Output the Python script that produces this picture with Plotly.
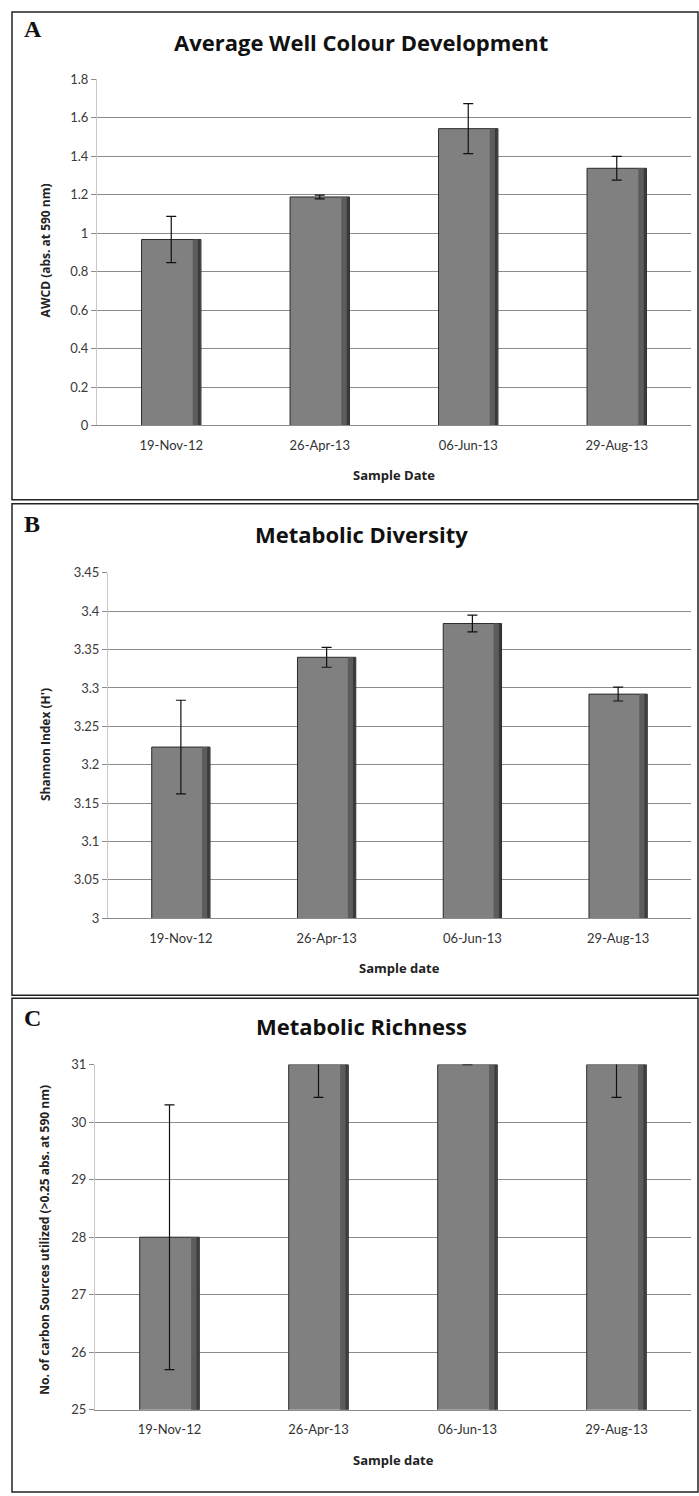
import plotly.graph_objects as go

W, H = 699, 1496

dates = ["19-Nov-12", "26-Apr-13", "06-Jun-13", "29-Aug-13"]

awcd = [0.967, 1.188, 1.543, 1.337]
awcd_err = [0.12, 0.01, 0.13, 0.062]
awcd_ticks = [0, 0.2, 0.4, 0.6, 0.8, 1, 1.2, 1.4, 1.6, 1.8]
awcd_ticktext = ["0", "0.2", "0.4", "0.6", "0.8", "1", "1.2", "1.4", "1.6", "1.8"]

shannon = [3.223, 3.340, 3.384, 3.292]
shannon_err = [0.061, 0.013, 0.011, 0.009]
shannon_ticks = [3, 3.05, 3.1, 3.15, 3.2, 3.25, 3.3, 3.35, 3.4, 3.45]
shannon_ticktext = ["3", "3.05", "3.1", "3.15", "3.2", "3.25", "3.3", "3.35", "3.4", "3.45"]

richness = [28, 31, 31, 31]
richness_err = [2.3, 0.57, 0, 0.57]
richness_ticks = [25, 26, 27, 28, 29, 30, 31]
richness_ticktext = ["25", "26", "27", "28", "29", "30", "31"]


def px_x(x):
    return x / W


def px_y(y):
    return 1 - y / H


panels = [
    dict(vals=awcd, err=awcd_err, ticks=awcd_ticks, ticktext=awcd_ticktext,
         rng=[0, 1.8], xd=[97, 691], yd=[72, 422], ax="", letter="A",
         title="Average Well Colour Development",
         ytitle="AWCD (abs. at 590 nm)", xtitle="Sample Date",
         box=[12, 4, 698, 497], letter_y=21, title_y=34, xtitle_y=472, ytitle_y=245),
    dict(vals=shannon, err=shannon_err, ticks=shannon_ticks, ticktext=shannon_ticktext,
         rng=[3, 3.45], xd=[108, 691], yd=[571, 920], ax="2", letter="B",
         title="Metabolic Diversity",
         ytitle="Shannon Index (H')", xtitle="Sample date",
         box=[12, 501, 698, 998], letter_y=522, title_y=532, xtitle_y=970, ytitle_y=745),
    dict(vals=richness, err=richness_err, ticks=richness_ticks, ticktext=richness_ticktext,
         rng=[25, 31], xd=[95, 691], yd=[1068, 1417], ax="3", letter="C",
         title="Metabolic Richness",
         ytitle="No. of carbon Sources utilized (>0.25 abs. at 590 nm)", xtitle="Sample date",
         box=[12, 1001, 698, 1500], letter_y=1021, title_y=1029, xtitle_y=1468, ytitle_y=1245),
]

fig = go.Figure()
shapes = []
annotations = []
layout_axes = {}

for p in panels:
    xa = "x" + p["ax"]
    ya = "y" + p["ax"]
    # main bar
    fig.add_trace(go.Bar(
        x=dates, y=p["vals"], xaxis=xa, yaxis=ya, width=0.4,
        marker=dict(color="#808080", line=dict(color="#2a2a2a", width=1)),
        error_y=dict(type="data", array=p["err"], visible=True,
                     color="#111111", thickness=1.2, width=5),
        showlegend=False, hoverinfo="skip",
    ))
    # darker shading stripes on right side
    fig.add_trace(go.Bar(
        x=dates, y=p["vals"], xaxis=xa, yaxis=ya, width=0.035, offset=0.145,
        marker=dict(color="#5c5c5c", line=dict(width=0)),
        showlegend=False, hoverinfo="skip",
    ))
    fig.add_trace(go.Bar(
        x=dates, y=p["vals"], xaxis=xa, yaxis=ya, width=0.017, offset=0.18,
        marker=dict(color="#3a3a3a", line=dict(width=0)),
        showlegend=False, hoverinfo="skip",
    ))

    key = p["ax"]
    layout_axes["xaxis" + key] = dict(
        domain=[px_x(p["xd"][0]), px_x(p["xd"][1])], anchor=ya,
        type="category", showgrid=False, showline=True, linecolor="#8c8c8c",
        linewidth=1, ticks="", tickfont=dict(family="Lato", size=13, color="#333333"),
        ticklabelstandoff=8, fixedrange=True,
    )
    layout_axes["yaxis" + key] = dict(
        domain=[px_y(p["yd"][1]), px_y(p["yd"][0])], anchor=xa,
        range=p["rng"], tickvals=p["ticks"], ticktext=p["ticktext"],
        showgrid=True, gridcolor="#8c8c8c", gridwidth=1,
        showline=True, linecolor="#c8c8c8", linewidth=1,
        ticks="outside", ticklen=5, tickcolor="#8c8c8c",
        tickfont=dict(family="Lato", size=13, color="#3a3a3a"),
        zeroline=False, fixedrange=True,
    )

    x0, y0, x1, y1 = p["box"]
    shapes.append(dict(type="rect", xref="paper", yref="paper",
                       x0=px_x(x0), x1=px_x(x1), y0=px_y(y1), y1=px_y(y0),
                       line=dict(color="#222222", width=1.5), fillcolor="rgba(0,0,0,0)"))

    annotations.append(dict(text="<b>" + p["letter"] + "</b>", xref="paper", yref="paper",
                            x=px_x(22), y=px_y(p["letter_y"]), xanchor="left", yanchor="middle",
                            showarrow=False, font=dict(family="Liberation Serif", size=24, color="#111")))
    annotations.append(dict(text="<b>" + p["title"] + "</b>", xref="paper", yref="paper",
                            x=px_x(361), y=px_y(p["title_y"]), xanchor="center", yanchor="middle",
                            showarrow=False, font=dict(family="Open Sans", size=22, color="#111")))
    annotations.append(dict(text="<b>" + p["xtitle"] + "</b>", xref="paper", yref="paper",
                            x=px_x((p["xd"][0] + p["xd"][1]) / 2), y=px_y(p["xtitle_y"]),
                            xanchor="center", yanchor="middle",
                            showarrow=False, font=dict(family="Open Sans", size=13, color="#222")))
    annotations.append(dict(text="<b>" + p["ytitle"] + "</b>", xref="paper", yref="paper",
                            x=px_x(45), y=px_y(p["ytitle_y"]), xanchor="center", yanchor="middle",
                            textangle=-90, showarrow=False,
                            font=dict(family="Open Sans", size=12, color="#222")))

fig.update_layout(
    width=W, height=H, margin=dict(l=0, r=0, t=0, b=0),
    paper_bgcolor="white", plot_bgcolor="white",
    barmode="overlay", bargap=0.6,
    shapes=shapes, annotations=annotations,
    **layout_axes,
)

fig.write_html("out.html", config={"displayModeBar": False})
